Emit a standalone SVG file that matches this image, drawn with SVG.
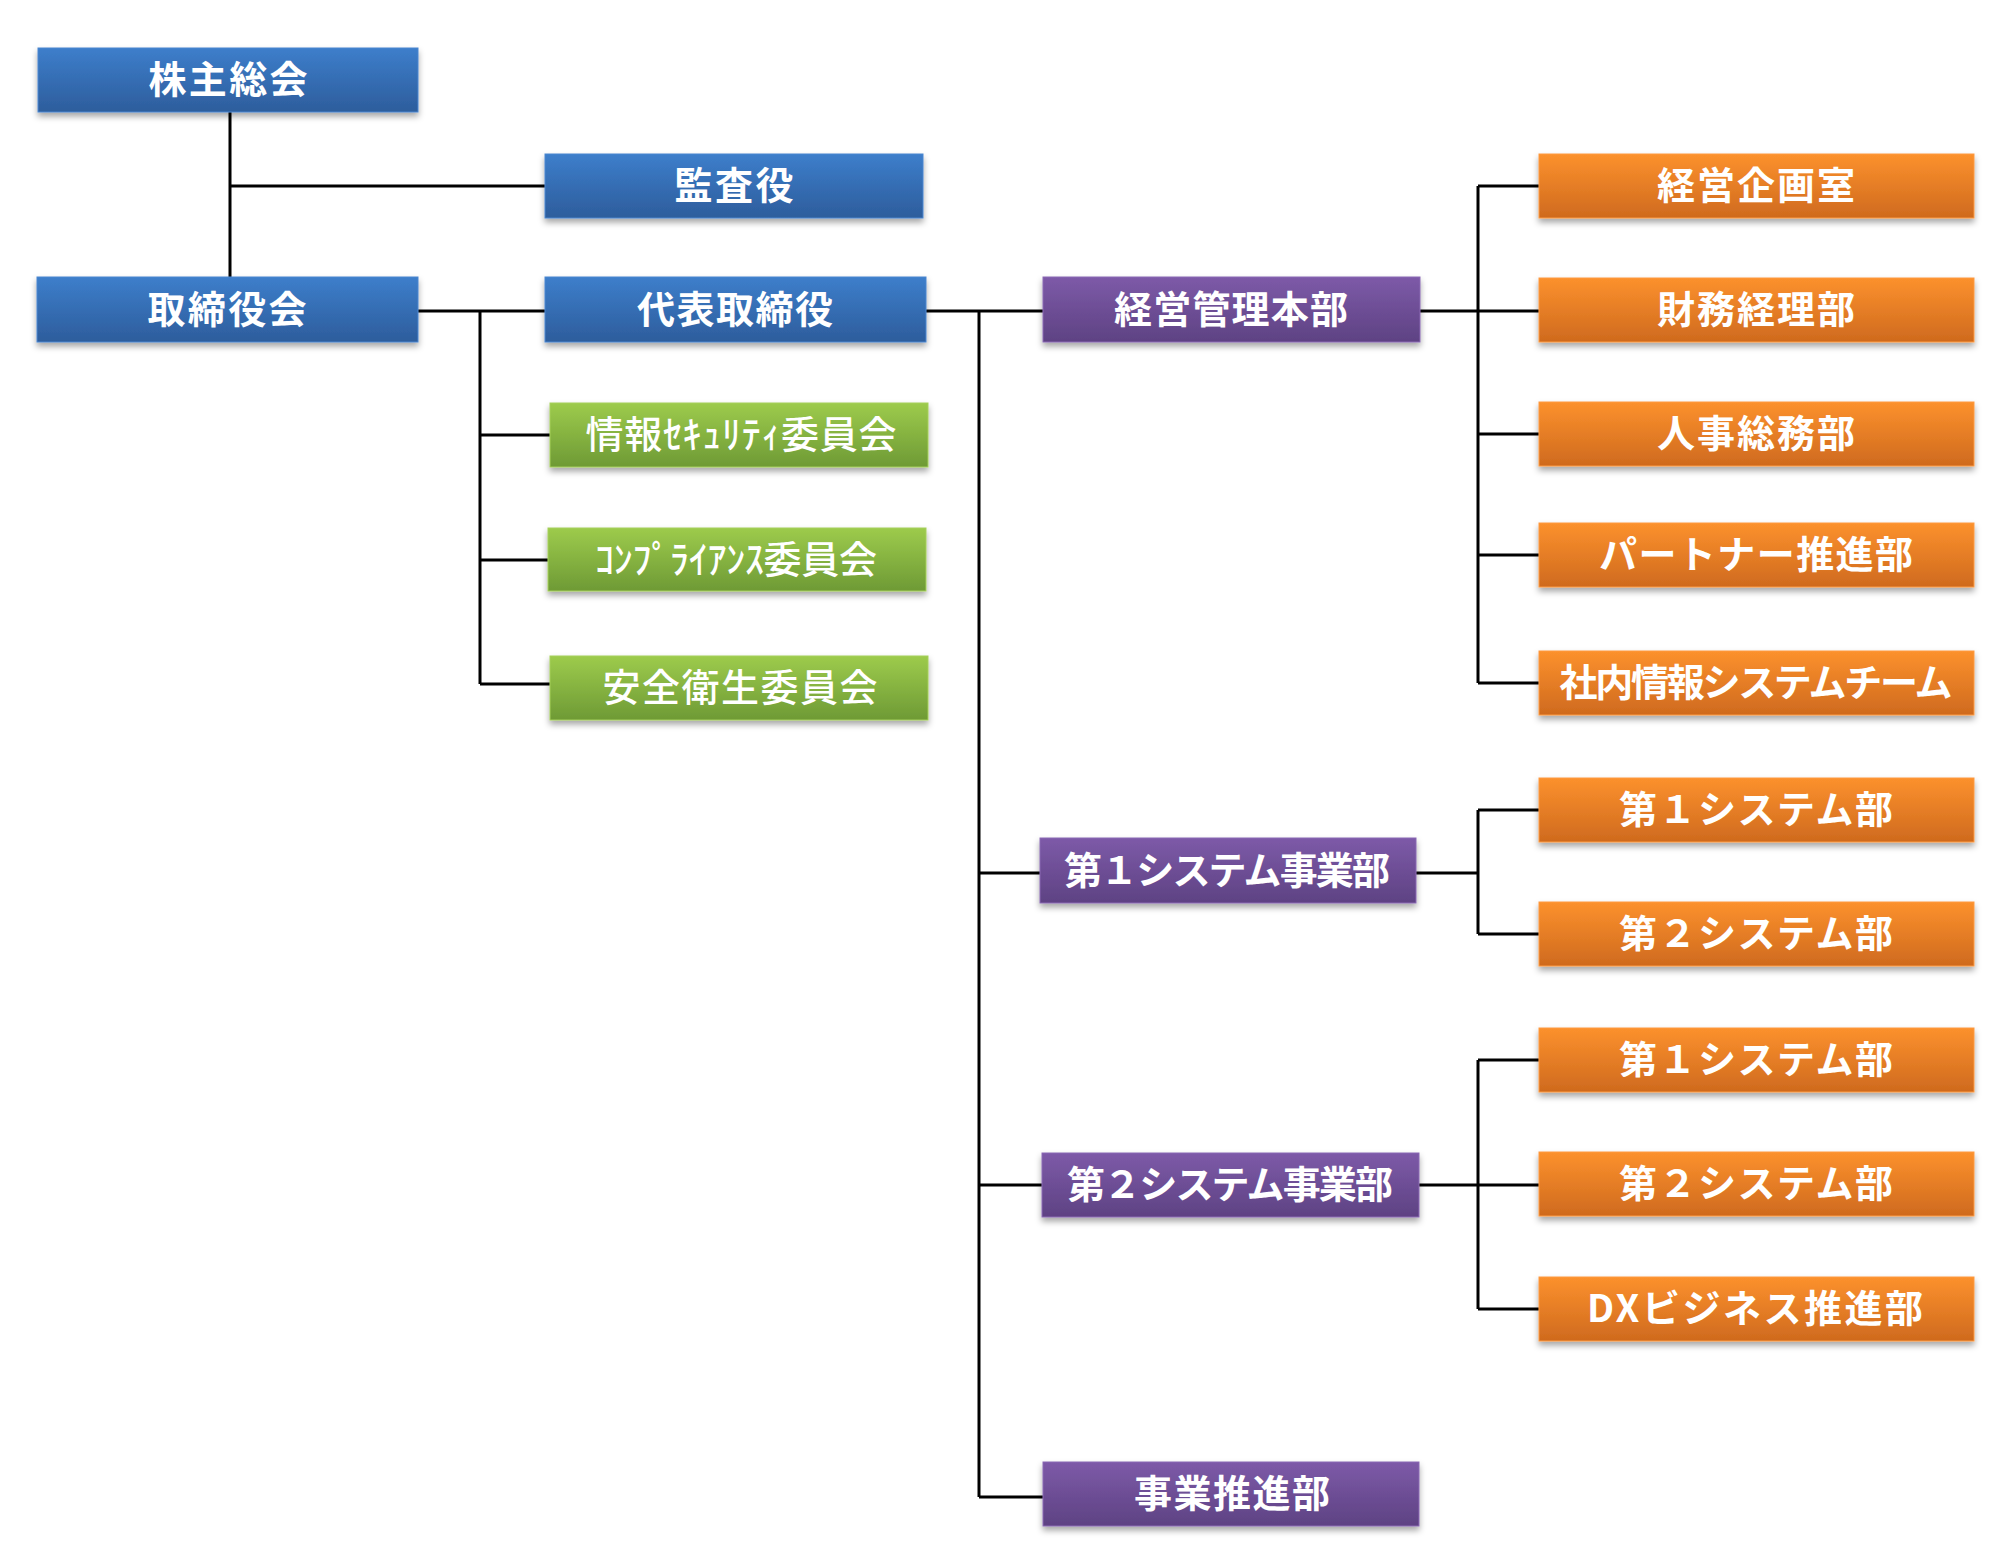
<svg xmlns="http://www.w3.org/2000/svg" width="2000" height="1561" viewBox="0 0 2000 1561">
<defs>
<linearGradient id="gBlue" x1="0" y1="0" x2="0" y2="1"><stop offset="0" stop-color="#3d7ecb"/><stop offset="1" stop-color="#2d5d9c"/></linearGradient>
<linearGradient id="gGreen" x1="0" y1="0" x2="0" y2="1"><stop offset="0" stop-color="#9dcb4c"/><stop offset="1" stop-color="#6e9a35"/></linearGradient>
<linearGradient id="gPurple" x1="0" y1="0" x2="0" y2="1"><stop offset="0" stop-color="#7d5aa8"/><stop offset="1" stop-color="#5e4283"/></linearGradient>
<linearGradient id="gOrange" x1="0" y1="0" x2="0" y2="1"><stop offset="0" stop-color="#fc912d"/><stop offset="1" stop-color="#cf6a1e"/></linearGradient>
<filter id="sh" x="-5%" y="-20%" width="110%" height="160%"><feDropShadow dx="0" dy="4" stdDeviation="3" flood-color="#000" flood-opacity="0.35"/></filter>
</defs>
<style>
.box{filter:url(#sh);}
.blue{fill:url(#gBlue);stroke:#4a86cf;stroke-width:1}
.green{fill:url(#gGreen);stroke:#a5cf5a;stroke-width:1}
.purple{fill:url(#gPurple);stroke:#8a68b3;stroke-width:1}
.orange{fill:url(#gOrange);stroke:#fd9a40;stroke-width:1}
text{font-family:"Noto Sans CJK JP","Noto Sans",sans-serif;font-size:38px;font-weight:bold;fill:#fff;text-anchor:middle}
text.thin{font-weight:500}
.c{fill:none;stroke:#000;stroke-width:3}
</style>
<rect width="2000" height="1561" fill="#fff"/>
<g id="connectors">
<path class="c" d="M230 112V277M230 186H545"/>
<path class="c" d="M418 311H545M480 311V684M480 435H550M480 560H548M480 684H550"/>
<path class="c" d="M926 311H1043M979 311V1497M979 873H1040M979 1185H1042M979 1497H1043"/>
<path class="c" d="M1420 311H1539M1478 186V683M1478 186H1539M1478 434H1539M1478 555H1539M1478 683H1539"/>
<path class="c" d="M1416 873H1478M1478 810V934M1478 810H1539M1478 934H1539"/>
<path class="c" d="M1419 1185H1539M1478 1060V1309M1478 1060H1539M1478 1309H1539"/>
</g>
<g id="n-kabunushi"><rect class="box blue" x="38" y="48" width="380" height="64"/><text x="228" y="93" textLength="159">株主総会</text></g>
<g id="n-kansayaku"><rect class="box blue" x="545" y="154" width="378" height="64"/><text x="734" y="199" textLength="119">監査役</text></g>
<g id="n-torishimariyakukai"><rect class="box blue" x="37" y="277" width="381" height="65"/><text x="227" y="323" textLength="159">取締役会</text></g>
<g id="n-daihyo"><rect class="box blue" x="545" y="277" width="381" height="65"/><text x="735" y="323" textLength="196">代表取締役</text></g>
<g id="n-security"><rect class="box green" x="550" y="403" width="378" height="64"/><text class="thin" x="741" y="448" textLength="311">情報ｾｷｭﾘﾃｨ委員会</text></g>
<g id="n-compliance"><rect class="box green" x="548" y="528" width="378" height="63"/><text class="thin" x="736" y="573" textLength="282">ｺﾝﾌﾟﾗｲｱﾝｽ委員会</text></g>
<g id="n-anzen"><rect class="box green" x="550" y="656" width="378" height="64"/><text class="thin" x="740" y="701" textLength="275">安全衛生委員会</text></g>
<g id="n-keiei-honbu"><rect class="box purple" x="1043" y="277" width="377" height="65"/><text x="1231" y="323" textLength="234">経営管理本部</text></g>
<g id="n-sys1-jigyo"><rect class="box purple" x="1040" y="838" width="376" height="65"/><text x="1227" y="884" textLength="326">第１システム事業部</text></g>
<g id="n-sys2-jigyo"><rect class="box purple" x="1042" y="1153" width="377" height="64"/><text x="1230" y="1198" textLength="326">第２システム事業部</text></g>
<g id="n-jigyo-suishin"><rect class="box purple" x="1043" y="1462" width="376" height="64"/><text x="1232" y="1507" textLength="196">事業推進部</text></g>
<g id="n-kikaku"><rect class="box orange" x="1539" y="154" width="435" height="64"/><text x="1756" y="199" textLength="198">経営企画室</text></g>
<g id="n-zaimu"><rect class="box orange" x="1539" y="278" width="435" height="64"/><text x="1756" y="323" textLength="198">財務経理部</text></g>
<g id="n-jinji"><rect class="box orange" x="1539" y="402" width="435" height="64"/><text x="1756" y="447" textLength="198">人事総務部</text></g>
<g id="n-partner"><rect class="box orange" x="1539" y="523" width="435" height="64"/><text x="1756" y="568" textLength="314">パートナー推進部</text></g>
<g id="n-shanai"><rect class="box orange" x="1539" y="651" width="435" height="64"/><text x="1756" y="696" textLength="393">社内情報システムチーム</text></g>
<g id="n-sys1-a"><rect class="box orange" x="1539" y="778" width="435" height="64"/><text x="1756" y="823" textLength="274">第１システム部</text></g>
<g id="n-sys2-a"><rect class="box orange" x="1539" y="902" width="435" height="64"/><text x="1756" y="947" textLength="274">第２システム部</text></g>
<g id="n-sys1-b"><rect class="box orange" x="1539" y="1028" width="435" height="64"/><text x="1756" y="1073" textLength="274">第１システム部</text></g>
<g id="n-sys2-b"><rect class="box orange" x="1539" y="1152" width="435" height="64"/><text x="1756" y="1197" textLength="274">第２システム部</text></g>
<g id="n-dx"><rect class="box orange" x="1539" y="1277" width="435" height="64"/><text x="1755" y="1322" textLength="336">DXビジネス推進部</text></g>
</svg>
